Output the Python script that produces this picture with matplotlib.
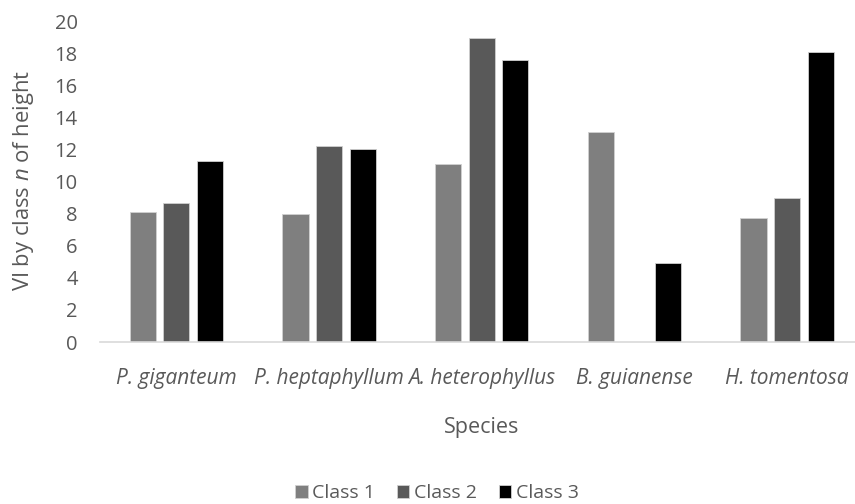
import numpy as np
import matplotlib
matplotlib.use("Agg")
import matplotlib.pyplot as plt

species = ["P. giganteum", "P. heptaphyllum", "A. heterophyllus", "B. guianense", "H. tomentosa"]
class_names = ["Class 1", "Class 2", "Class 3"]
class1 = [8.1, 8.0, 11.1, 13.1, 7.75]
class2 = [8.65, 12.2, 18.95, 0.0, 8.95]
class3 = [11.3, 12.05, 17.55, 4.95, 18.05]

colors = ["#7f7f7f", "#595959", "#000000"]
text_color = "#595959"

plt.rcParams["font.family"] = ["Open Sans", "DejaVu Sans"]
plt.rcParams["mathtext.fontset"] = "custom"
plt.rcParams["mathtext.it"] = "Open Sans:italic"
plt.rcParams["mathtext.rm"] = "Open Sans"

fig = plt.figure(figsize=(8.55, 5.04), dpi=100)
ax = fig.add_axes([100 / 855, 162 / 504, 755 / 855, 321 / 504])

x = np.arange(len(species))
width = 0.172
step = 0.22
for i, vals in enumerate([class1, class2, class3]):
    ax.bar(x + (i - 1) * step, vals, width, color=colors[i], edgecolor="#d0d0d0",
           linewidth=0.6, label=class_names[i], zorder=2)

ax.set_xlim(-0.5, -0.5 + 755 / 152.7)
ax.set_ylim(0, 20)
ax.set_yticks(np.arange(0, 21, 2))
ax.tick_params(axis="y", length=0, pad=16, labelsize=14.5, labelcolor=text_color)
ax.set_xticks(x)
ax.set_xticklabels(species, fontstyle="italic")
ax.tick_params(axis="x", length=0, pad=19, labelsize=15, labelcolor=text_color)

for side in ["top", "right", "left"]:
    ax.spines[side].set_visible(False)
ax.spines["bottom"].set_color("#d9d9d9")
ax.spines["bottom"].set_linewidth(1.2)

fig.text(23 / 855, 1 - 180 / 504, r"VI by class $\mathit{n}$ of height", rotation=90,
         ha="center", va="center", fontsize=15.8, color=text_color)
fig.text(482 / 855, 1 - 428 / 504, "Species", ha="center", va="center",
         fontsize=15.5, color=text_color)

fig.legend(loc="center", bbox_to_anchor=(437 / 855, 1 - 493 / 504), ncol=3,
           frameon=False, fontsize=14, handlelength=0.65, handleheight=0.65,
           handletextpad=0.25, columnspacing=1.1, labelcolor=text_color)

fig.savefig("out.png", dpi=100)
